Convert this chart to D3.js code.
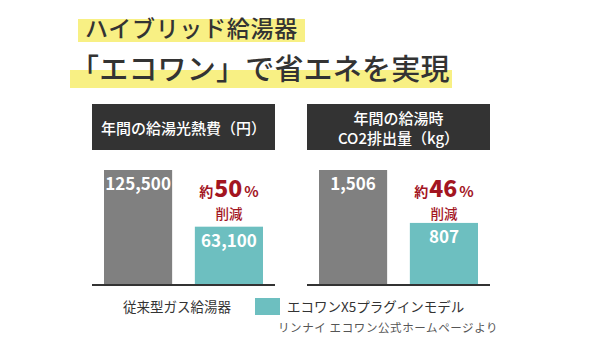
<!DOCTYPE html>
<meta charset="utf-8">
<body style="margin:0;background-color:white;">
<svg width="600" height="337"></svg>
<script src="https://d3js.org/d3.v7.min.js"></script>
<script>

// data
var series = ['従来型ガス給湯器', 'エコワンX5プラグインモデル'];
var panelTitles = [['年間の給湯光熱費（円）'], ['年間の給湯時', 'CO2排出量（kg）']];
var costValues = [125500, 63100];
var co2Values = [1506, 807];
var reductions = [50, 46];
var titleLines = ['ハイブリッド給湯器', '「エコワン」で省エネを実現'];
var sourceNote = 'リンナイ エコワン公式ホームページより';

var font = '"Noto Sans CJK JP", "Noto Sans", sans-serif';
var grayClr = '#808080', tealClr = '#6dbfc0', redClr = '#a3151f', darkClr = '#333333';

var svg = d3.select('svg').style('font-family', font);

// title with yellow highlights
svg.append('rect').attr('x', 78).attr('y', 19).attr('width', 227).attr('height', 23).attr('fill', '#f8f084');
svg.append('rect').attr('x', 70).attr('y', 70).attr('width', 382).attr('height', 18).attr('fill', '#f8f084');
svg.append('text').attr('x', 85).attr('y', 37)
   .attr('font-size', 23).attr('font-weight', 500).attr('letter-spacing', 0.7)
   .attr('fill', darkClr).text(titleLines[0]);
svg.append('text').attr('x', 70).attr('y', 80)
   .attr('font-size', 29).attr('font-weight', 500).attr('letter-spacing', 0.2)
   .attr('fill', darkClr).text(titleLines[1]);

var panels = [
  {x0: 92, values: costValues, title: panelTitles[0], pct: reductions[0]},
  {x0: 307, values: co2Values, title: panelTitles[1], pct: reductions[1]}
];

var baseY = 284, topY = 170, panelW = 183;

panels.forEach(function(p) {
  var g = svg.append('g');
  g.append('rect').attr('x', p.x0).attr('y', 104).attr('width', panelW).attr('height', 46).attr('fill', darkClr);
  var midY = 127;
  p.title.forEach(function(t, i) {
    g.append('text').attr('x', p.x0 + panelW / 2)
     .attr('y', midY + (i - (p.title.length - 1) / 2) * 20)
     .attr('text-anchor', 'middle').attr('dominant-baseline', 'central')
     .attr('font-size', 15).attr('font-weight', 500).attr('fill', 'white').text(t);
  });

  var x = d3.scaleBand().domain(series).range([p.x0 + 12, p.x0 + 171]).paddingInner(0.25);
  var y = d3.scaleLinear().domain([0, d3.max(p.values)]).range([baseY, topY]);

  g.selectAll('.bar').data(p.values).enter().append('rect')
   .attr('x', function(d, i) { return x(series[i]); })
   .attr('y', function(d) { return y(d); })
   .attr('width', x.bandwidth())
   .attr('height', function(d) { return baseY - y(d); })
   .attr('fill', function(d, i) { return i == 0 ? grayClr : tealClr; });

  g.selectAll('.lbl').data(p.values).enter().append('text')
   .attr('x', function(d, i) { return x(series[i]) + x.bandwidth() / 2; })
   .attr('y', function(d) { return y(d) + 20; })
   .attr('text-anchor', 'middle')
   .attr('font-size', 17).attr('font-weight', 700).attr('fill', 'white')
   .text(function(d) { return d3.format(',')(d); });

  g.append('line').attr('x1', p.x0).attr('x2', p.x0 + panelW)
   .attr('y1', baseY + 1).attr('y2', baseY + 1)
   .attr('stroke', darkClr).attr('stroke-width', 2);

  // reduction note
  var cx = x(series[1]) + x.bandwidth() / 2;
  var t = g.append('text').attr('x', cx).attr('y', 197).attr('text-anchor', 'middle').attr('fill', redClr);
  t.append('tspan').attr('font-size', 14).attr('font-weight', 700).text('約');
  t.append('tspan').attr('font-size', 23).attr('font-weight', 900).attr('dx', 1).text(p.pct);
  t.append('tspan').attr('font-size', 15).attr('font-weight', 700).attr('dx', 2).text('%');
  g.append('text').attr('x', cx).attr('y', 219).attr('text-anchor', 'middle')
   .attr('font-size', 13.5).attr('font-weight', 500).attr('fill', redClr).text('削減');
});

// legend
svg.append('text').attr('x', 123).attr('y', 312).attr('font-size', 13.5).attr('fill', darkClr).text(series[0]);
svg.append('rect').attr('x', 255).attr('y', 298).attr('width', 25).attr('height', 17).attr('fill', tealClr);
svg.append('text').attr('x', 287).attr('y', 312).attr('font-size', 13.5).attr('fill', darkClr).text(series[1]);
svg.append('text').attr('x', 278).attr('y', 332).attr('font-size', 11.5).attr('letter-spacing', 0.6)
   .attr('fill', '#555').text(sourceNote);

</script>
</body>
